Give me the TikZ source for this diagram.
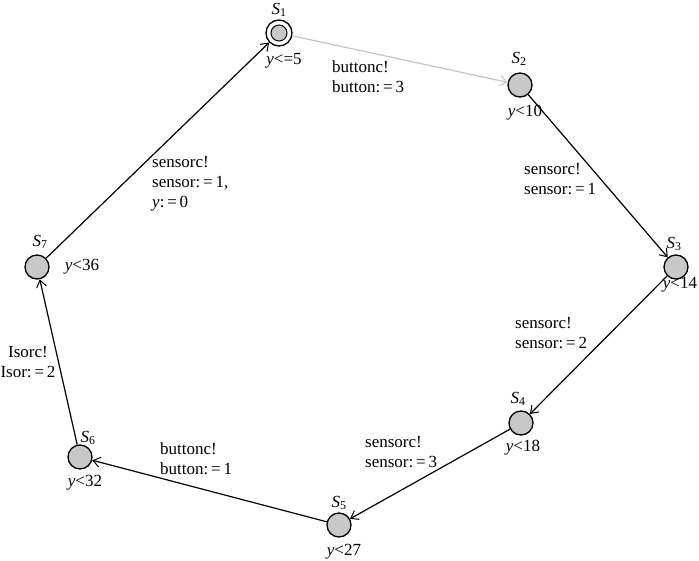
\documentclass[tikz,border=0pt]{standalone}
\usepackage{fontspec}
\setmainfont{Liberation Serif}
\usetikzlibrary{arrows.meta}
\definecolor{stategray}{HTML}{C8C8C8}
\definecolor{edgegray}{HTML}{C4C4C4}
\tikzset{
  state/.style={circle, draw=black, line width=1.3pt, fill=stategray, minimum size=24pt, inner sep=0pt},
  innerstate/.style={circle, draw=black, line width=1pt, fill=stategray, minimum size=16pt, inner sep=0pt},
  edge/.style={line width=1.2pt, -{Straight Barb[length=7pt,width=10pt,line width=1pt]}},
  greyedge/.style={edge, draw=edgegray},
  txt/.style={font=\fontsize{17}{20}\selectfont, inner sep=0pt},
  elabel/.style={txt, anchor=west, align=left},
}
\newcommand{\yv}{\textit{y}}
\newcommand{\sname}[1]{\textit{S}\textsubscript{#1}}
\begin{document}
\begin{tikzpicture}[x=1pt,y=-1pt]
\useasboundingbox (0,0) rectangle (699,560);
% states
\node[state, fill=white, minimum size=26pt] (S1) at (279,33) {};
\node[innerstate] (S1in) at (S1) {};
\node[state] (S2) at (520,85) {};
\node[state] (S3) at (676,267) {};
\node[state] (S4) at (521,423) {};
\node[state] (S5) at (339,525) {};
\node[state] (S6) at (80,457) {};
\node[state] (S7) at (37,267) {};
% names
\node[txt] (n1) at (279,10) {\sname{1}};
\node[txt] (n2) at (519,59) {\sname{2}};
\node[txt] (n3) at (674,244) {\sname{3}};
\node[txt] (n4) at (518,399) {\sname{4}};
\node[txt] (n5) at (339,503) {\sname{5}};
\node[txt] (n6) at (88,438) {\sname{6}};
\node[txt] (n7) at (40,242) {\sname{7}};
% invariants
\node[txt] (i1) at (284,61) {\yv<=5};
\node[txt] (i2) at (525,113) {\yv<10};
\node[txt] (i3) at (680,285) {\yv<14};
\node[txt] (i4) at (523,448) {\yv<18};
\node[txt] (i5) at (344,552) {\yv<27};
\node[txt] (i6) at (85,483) {\yv<32};
\node[txt] (i7) at (82,267) {\yv<36};
% edges
\draw[greyedge] (S1) -- (S2);
\draw[edge] (S2) -- (S3);
\draw[edge] (S3) -- (S4);
\draw[edge] (S4) -- (S5);
\draw[edge] (S5) -- (S6);
\draw[edge] (S6) -- (S7);
\draw[edge] (S7) -- (S1);
% edge labels
\node[elabel] (e12) at (332,77) {buttonc!\\button:\,=\,3};
\node[elabel] (e23) at (524,179) {sensorc!\\sensor:\,=\,1};
\node[elabel] (e34) at (515,333) {sensorc!\\sensor:\,=\,2};
\node[elabel] (e45) at (365,452) {sensorc!\\sensor:\,=\,3};
\node[elabel] (e56) at (160,459) {buttonc!\\button:\,=\,1};
\node[txt, align=center] (e67) at (28,362) {Isorc!\\Isor:\,=\,2};
\node[elabel] (e71) at (152,184) {sensorc!\\sensor:\,=\,1,\\\yv:\,=\,0};
\end{tikzpicture}
\end{document}
